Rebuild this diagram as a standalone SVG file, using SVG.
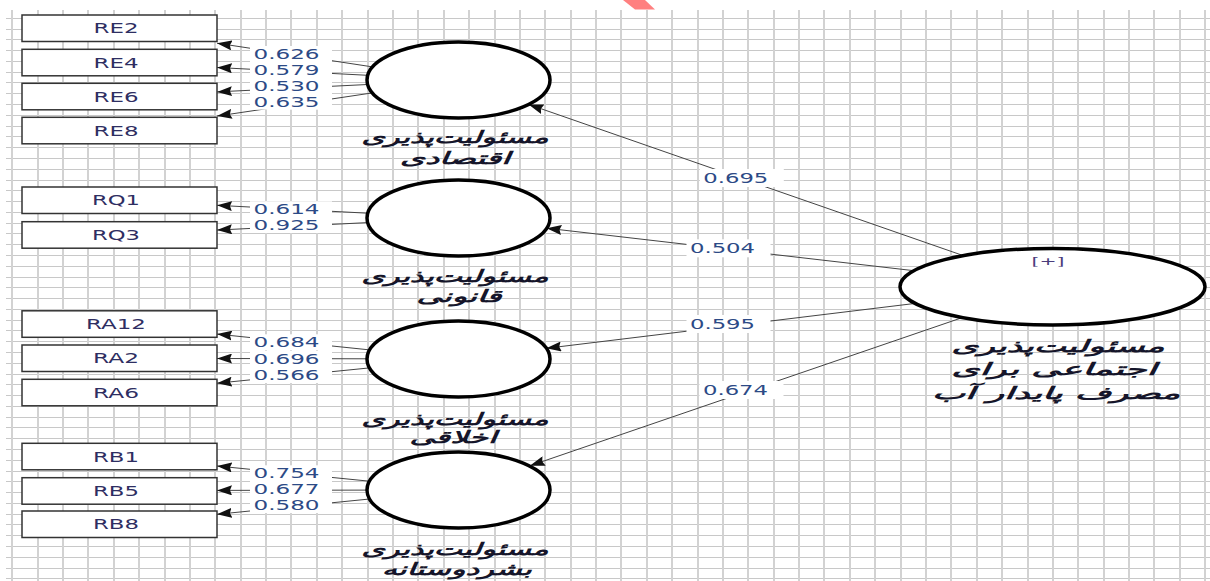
<svg xmlns="http://www.w3.org/2000/svg" width="1210" height="581" viewBox="0 0 1210 581">
<style>
.gv{stroke:#d2d2d2;stroke-width:2;fill:none}
.gh{stroke:#c8c8c8;stroke-width:1;fill:none}
.box{fill:#fff;stroke:#333;stroke-width:1.5}
.bt{font-family:"DejaVu Sans",sans-serif;font-size:14px;fill:#2e2e62;text-anchor:middle}
.lv{fill:#fff;stroke:#000;stroke-width:3.5}
.ln{stroke:#444;stroke-width:1;fill:none;marker-end:url(#arr)}
.bg{fill:#fff}
.num{font-family:"DejaVu Sans",sans-serif;font-size:14px;fill:#2c4a86;text-anchor:middle}
.ar{font-family:"DejaVu Sans",sans-serif;font-size:17px;font-style:italic;font-weight:bold;fill:#15152a;text-anchor:middle}
.plus{font-family:"DejaVu Sans",sans-serif;font-size:11px;fill:#4a3c7c;text-anchor:middle}
</style>
<defs>
<marker id="arr" markerUnits="userSpaceOnUse" markerWidth="15" markerHeight="10" refX="15" refY="5" orient="auto">
<path d="M0,0 L15,5 L0,10 L2,5 z" fill="#111"/>
</marker>
</defs>
<rect width="1210" height="581" fill="#fff"/>
<g id="grid">
<path class="gh" d="M6,18.5H1210M6,29.5H1210M6,39.5H1210M6,50.5H1210M6,61.5H1210M6,72.5H1210M6,82.5H1210M6,93.5H1210M6,104.5H1210M6,115.5H1210M6,126.5H1210M6,136.5H1210M6,147.5H1210M6,158.5H1210M6,169.5H1210M6,180.5H1210M6,190.5H1210M6,201.5H1210M6,212.5H1210M6,223.5H1210M6,233.5H1210M6,244.5H1210M6,255.5H1210M6,266.5H1210M6,277.5H1210M6,287.5H1210M6,298.5H1210M6,309.5H1210M6,320.5H1210M6,330.5H1210M6,341.5H1210M6,352.5H1210M6,363.5H1210M6,374.5H1210M6,384.5H1210M6,395.5H1210M6,406.5H1210M6,417.5H1210M6,427.5H1210M6,438.5H1210M6,449.5H1210M6,460.5H1210M6,471.5H1210M6,481.5H1210M6,492.5H1210M6,503.5H1210M6,514.5H1210M6,524.5H1210M6,535.5H1210M6,546.5H1210M6,557.5H1210M6,568.5H1210M6,578.5H1210"/>
<path class="gv" d="M12,10V581M38,10V581M63,10V581M88,10V581M114,10V581M139,10V581M165,10V581M190,10V581M215,10V581M241,10V581M266,10V581M291,10V581M317,10V581M342,10V581M368,10V581M393,10V581M418,10V581M444,10V581M469,10V581M495,10V581M520,10V581M545,10V581M571,10V581M596,10V581M621,10V581M647,10V581M672,10V581M698,10V581M723,10V581M748,10V581M774,10V581M799,10V581M824,10V581M850,10V581M875,10V581M901,10V581M926,10V581M951,10V581M977,10V581M1002,10V581M1028,10V581M1053,10V581M1078,10V581M1104,10V581M1129,10V581M1154,10V581M1180,10V581M1205,10V581"/>
</g>
<polygon points="623,0 645,0 655,9.5 635,9.5" fill="#ff8080"/>
<g id="connectors">
<path class="ln" d="M372.6,66.9 L217,43.2"/>
<path class="ln" d="M367.7,75.3 L217,67.5"/>
<path class="ln" d="M367.6,84.5 L217,91.9"/>
<path class="ln" d="M372.4,92.9 L217,116.1"/>
<path class="ln" d="M367.7,213.2 L217,205.3"/>
<path class="ln" d="M367.7,222.6 L217,230.1"/>
<path class="ln" d="M369.7,349.9 L217,334.1"/>
<path class="ln" d="M367,358.8 L217,358.5"/>
<path class="ln" d="M369.6,367.9 L217,383.2"/>
<path class="ln" d="M369.5,481.2 L217,466"/>
<path class="ln" d="M367,490.1 L217,490.4"/>
<path class="ln" d="M369.6,499 L217,514.3"/>
<path class="ln" d="M963.25,255.6 L528.6,104.4"/>
<path class="ln" d="M914,270.7 L546.6,228.2"/>
<path class="ln" d="M915.3,303.4 L546.3,348.3"/>
<path class="ln" d="M962.3,317.6 L529.9,465.8"/>
<g id="connector-labels">
<rect class="bg" x="250" y="46" width="82" height="16"/>
<rect class="bg" x="250" y="62" width="82" height="16"/>
<rect class="bg" x="250" y="78" width="82" height="16"/>
<rect class="bg" x="250" y="93.7" width="82" height="16"/>
<rect class="bg" x="250" y="201.3" width="82" height="16"/>
<rect class="bg" x="250" y="217" width="82" height="16"/>
<rect class="bg" x="250" y="334.3" width="82" height="16"/>
<rect class="bg" x="250" y="351" width="82" height="16"/>
<rect class="bg" x="250" y="367" width="82" height="16"/>
<rect class="bg" x="250" y="465.3" width="82" height="16"/>
<rect class="bg" x="250" y="481" width="82" height="16"/>
<rect class="bg" x="250" y="497" width="82" height="16"/>
<rect class="bg" x="699.8" y="169" width="84" height="18"/>
<rect class="bg" x="686.5" y="239.3" width="84" height="18"/>
<rect class="bg" x="686.5" y="315" width="84" height="18"/>
<rect class="bg" x="699.5" y="381" width="84" height="18"/>
<text class="num" x="286.5" y="59" textLength="66" lengthAdjust="spacingAndGlyphs">0.626</text>
<text class="num" x="286.5" y="75" textLength="66" lengthAdjust="spacingAndGlyphs">0.579</text>
<text class="num" x="286.5" y="91" textLength="66" lengthAdjust="spacingAndGlyphs">0.530</text>
<text class="num" x="286.5" y="106.7" textLength="66" lengthAdjust="spacingAndGlyphs">0.635</text>
<text class="num" x="286.5" y="214.3" textLength="66" lengthAdjust="spacingAndGlyphs">0.614</text>
<text class="num" x="286.5" y="230" textLength="66" lengthAdjust="spacingAndGlyphs">0.925</text>
<text class="num" x="286.5" y="347.3" textLength="66" lengthAdjust="spacingAndGlyphs">0.684</text>
<text class="num" x="286.5" y="364" textLength="66" lengthAdjust="spacingAndGlyphs">0.696</text>
<text class="num" x="286.5" y="380" textLength="66" lengthAdjust="spacingAndGlyphs">0.566</text>
<text class="num" x="286.5" y="478.3" textLength="66" lengthAdjust="spacingAndGlyphs">0.754</text>
<text class="num" x="286.5" y="494" textLength="66" lengthAdjust="spacingAndGlyphs">0.677</text>
<text class="num" x="286.5" y="510" textLength="66" lengthAdjust="spacingAndGlyphs">0.580</text>
<text class="num" x="735.8" y="183" textLength="65" lengthAdjust="spacingAndGlyphs">0.695</text>
<text class="num" x="722.5" y="253.3" textLength="65" lengthAdjust="spacingAndGlyphs">0.504</text>
<text class="num" x="722.5" y="329" textLength="65" lengthAdjust="spacingAndGlyphs">0.595</text>
<text class="num" x="735.5" y="395" textLength="65" lengthAdjust="spacingAndGlyphs">0.674</text>
</g>
</g>
<g id="RE2"><rect class="box" x="22" y="15" width="195" height="26.5"/><text class="bt" x="116" y="33.3" textLength="45" lengthAdjust="spacingAndGlyphs">RE2</text></g>
<g id="RE4"><rect class="box" x="22" y="49.3" width="195" height="26.5"/><text class="bt" x="116" y="67.6" textLength="45" lengthAdjust="spacingAndGlyphs">RE4</text></g>
<g id="RE6"><rect class="box" x="22" y="83.3" width="195" height="26.5"/><text class="bt" x="116" y="101.6" textLength="45" lengthAdjust="spacingAndGlyphs">RE6</text></g>
<g id="RE8"><rect class="box" x="22" y="117.3" width="195" height="26.5"/><text class="bt" x="116" y="135.6" textLength="45" lengthAdjust="spacingAndGlyphs">RE8</text></g>
<g id="RQ1"><rect class="box" x="22" y="187" width="195" height="26.5"/><text class="bt" x="116" y="205.3" textLength="48" lengthAdjust="spacingAndGlyphs">RQ1</text></g>
<g id="RQ3"><rect class="box" x="22" y="221.7" width="195" height="26.5"/><text class="bt" x="116" y="240" textLength="48" lengthAdjust="spacingAndGlyphs">RQ3</text></g>
<g id="RA12"><rect class="box" x="22" y="310.8" width="195" height="26.5"/><text class="bt" x="116" y="329.1" textLength="60" lengthAdjust="spacingAndGlyphs">RA12</text></g>
<g id="RA2"><rect class="box" x="22" y="345" width="195" height="26.5"/><text class="bt" x="116" y="363.3" textLength="46" lengthAdjust="spacingAndGlyphs">RA2</text></g>
<g id="RA6"><rect class="box" x="22" y="379.3" width="195" height="26.5"/><text class="bt" x="116" y="397.6" textLength="46" lengthAdjust="spacingAndGlyphs">RA6</text></g>
<g id="RB1"><rect class="box" x="22" y="443.3" width="195" height="26.5"/><text class="bt" x="116" y="461.6" textLength="46" lengthAdjust="spacingAndGlyphs">RB1</text></g>
<g id="RB5"><rect class="box" x="22" y="477.7" width="195" height="26.5"/><text class="bt" x="116" y="496" textLength="46" lengthAdjust="spacingAndGlyphs">RB5</text></g>
<g id="RB8"><rect class="box" x="22" y="511" width="195" height="26.5"/><text class="bt" x="116" y="529.3" textLength="46" lengthAdjust="spacingAndGlyphs">RB8</text></g>
<g id="economic">
<ellipse class="lv" cx="458.5" cy="80" rx="91.5" ry="38"/>
<text class="ar" x="455" y="143" textLength="187" lengthAdjust="spacingAndGlyphs">مسئولیت‌پذیری</text>
<text class="ar" x="455" y="164" textLength="110" lengthAdjust="spacingAndGlyphs">اقتصادی</text>
</g>
<g id="legal">
<ellipse class="lv" cx="458.5" cy="218" rx="91.5" ry="38"/>
<text class="ar" x="455" y="281.5" textLength="187" lengthAdjust="spacingAndGlyphs">مسئولیت‌پذیری</text>
<text class="ar" x="459" y="301.5" textLength="85" lengthAdjust="spacingAndGlyphs">قانونی</text>
</g>
<g id="ethical">
<ellipse class="lv" cx="458.5" cy="359" rx="91.5" ry="38"/>
<text class="ar" x="455" y="424.5" textLength="187" lengthAdjust="spacingAndGlyphs">مسئولیت‌پذیری</text>
<text class="ar" x="453" y="443" textLength="87" lengthAdjust="spacingAndGlyphs">اخلاقی</text>
</g>
<g id="philanthropic">
<ellipse class="lv" cx="458.5" cy="490" rx="91.5" ry="38"/>
<text class="ar" x="455" y="554.5" textLength="187" lengthAdjust="spacingAndGlyphs">مسئولیت‌پذیری</text>
<text class="ar" x="456.7" y="574.5" textLength="150" lengthAdjust="spacingAndGlyphs">بشردوستانه</text>
</g>
<g id="csr-water">
<ellipse class="lv" cx="1052.5" cy="286.7" rx="152.5" ry="38.3"/>
<text class="plus" x="1048" y="265" textLength="33" lengthAdjust="spacingAndGlyphs">[+]</text>
<text class="ar" x="1058" y="351.5" textLength="213" lengthAdjust="spacingAndGlyphs">مسئولیت‌پذیری</text>
<text class="ar" x="1054" y="375" textLength="205" lengthAdjust="spacingAndGlyphs">اجتماعی برای</text>
<text class="ar" x="1056" y="398.5" textLength="248" lengthAdjust="spacingAndGlyphs">مصرف پایدار آب</text>
</g>
</svg>
